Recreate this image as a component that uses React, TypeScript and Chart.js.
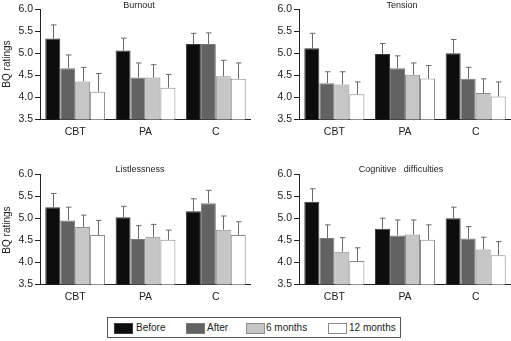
import React, { useEffect, useRef } from 'react';
import { Chart, registerables } from 'chart.js';

Chart.register(...registerables);

const categories = ['CBT', 'PA', 'C'];
const seriesLabels = ['Before', 'After', '6 months', '12 months'];
const seriesColors = ['#0d0d0d', '#626262', '#c6c6c6', '#ffffff'];
const seriesBorders = ['#3a3a3a', '#7a7a7a', '#8e8e8e', '#8a8a8a'];
const yTicks = [3.5, 4.0, 4.5, 5.0, 5.5, 6.0];

// rows = series (Before, After, 6 months, 12 months), columns = categories
const burnoutMeans = [[5.33, 5.06, 5.21], [4.66, 4.45, 5.21], [4.36, 4.45, 4.48], [4.13, 4.22, 4.42]];
const burnoutErrors = [[0.31, 0.28, 0.24], [0.30, 0.33, 0.25], [0.32, 0.29, 0.36], [0.41, 0.30, 0.36]];

const tensionMeans = [[5.11, 4.98, 5.0], [4.32, 4.66, 4.42], [4.29, 4.51, 4.1], [4.07, 4.43, 4.02]];
const tensionErrors = [[0.34, 0.24, 0.31], [0.26, 0.28, 0.26], [0.29, 0.27, 0.32], [0.28, 0.29, 0.33]];

const listlessnessMeans = [[5.25, 5.02, 5.16], [4.95, 4.53, 5.34], [4.8, 4.58, 4.74], [4.62, 4.51, 4.62]];
const listlessnessErrors = [[0.31, 0.25, 0.28], [0.3, 0.3, 0.29], [0.27, 0.28, 0.31], [0.33, 0.22, 0.3]];

const cognitiveMeans = [[5.375, 4.76, 5.0], [4.55, 4.61, 4.54], [4.24, 4.63, 4.29], [4.03, 4.51, 4.16]];
const cognitiveErrors = [[0.29, 0.24, 0.25], [0.3, 0.35, 0.27], [0.32, 0.33, 0.28], [0.3, 0.34, 0.31]];

const FONT = "'Liberation Sans', Arial, Helvetica, sans-serif";

const errorBarPlugin = {
  id: 'errorBars',
  afterDatasetsDraw(chart: any) {
    const ctx = chart.ctx;
    const yScale = chart.scales.y;
    ctx.save();
    ctx.strokeStyle = '#6a6a6a';
    ctx.lineWidth = 1;
    chart.data.datasets.forEach((ds: any, i: number) => {
      const meta = chart.getDatasetMeta(i);
      meta.data.forEach((bar: any, j: number) => {
        const v = ds.data[j];
        const e = ds.errors[j];
        const x = Math.round(bar.x) + 0.5;
        const yTop = yScale.getPixelForValue(v + e);
        const yBase = yScale.getPixelForValue(v);
        ctx.beginPath();
        ctx.moveTo(x, yBase);
        ctx.lineTo(x, yTop);
        ctx.moveTo(x - 2.5, yTop);
        ctx.lineTo(x + 3, yTop);
        ctx.stroke();
      });
    });
    ctx.restore();
  },
};

type PanelProps = {
  means: number[][];
  errors: number[][];
  left: number;
  top: number;
  width: number;
  height: number;
  yAxisWidth: number;
};

function Panel({ means, errors, left, top, width, height, yAxisWidth }: PanelProps) {
  const ref = useRef<HTMLCanvasElement | null>(null);
  useEffect(() => {
    if (!ref.current) return;
    const chart = new Chart(ref.current, {
      type: 'bar',
      data: {
        labels: categories,
        datasets: seriesLabels.map((label, i) => ({
          label,
          data: means[i],
          errors: errors[i],
          backgroundColor: seriesColors[i],
          borderColor: seriesBorders[i],
          borderWidth: 1,
          categoryPercentage: 0.85,
          barPercentage: 1,
        })) as any,
      },
      options: {
        animation: false,
        responsive: false,
        maintainAspectRatio: false,
        devicePixelRatio: 1,
        layout: { padding: { top: 9, right: 0, bottom: 0, left: 0 } },
        plugins: {
          legend: { display: false },
          tooltip: { enabled: false },
          title: { display: false },
        },
        scales: {
          x: {
            grid: { display: true, drawOnChartArea: false, drawTicks: false },
            border: { display: true, color: '#222', width: 1 },
            ticks: { padding: 6, color: '#222', font: { family: FONT, size: 10.5 } },
            afterFit: (s: any) => {
              s.height = 20.5;
            },
          },
          y: {
            min: 3.5,
            max: 6,
            afterBuildTicks: (s: any) => {
              s.ticks = yTicks.map((v) => ({ value: v }));
            },
            grid: { display: true, drawOnChartArea: false, drawTicks: true, tickLength: 5, color: '#222' },
            border: { display: true, color: '#222', width: 1 },
            ticks: {
              padding: 2,
              color: '#222',
              font: { family: FONT, size: 10.5 },
              callback: (v: any) => Number(v).toFixed(1),
            },
            afterFit: (s: any) => {
              s.width = yAxisWidth;
            },
          },
        },
      } as any,
      plugins: [errorBarPlugin],
    });
    return () => chart.destroy();
  }, [means, errors, yAxisWidth]);
  return (
    <canvas
      ref={ref}
      width={width}
      height={height}
      style={{ position: 'absolute', left, top, width, height }}
    />
  );
}

const titleStyle = (cx: number, cy: number): React.CSSProperties => ({
  position: 'absolute',
  left: cx - 80,
  top: cy - 6,
  width: 160,
  height: 12,
  lineHeight: '12px',
  textAlign: 'center',
  fontFamily: FONT,
  fontSize: 9,
  color: '#222',
  whiteSpace: 'pre',
});

const yLabelStyle = (cx: number, cy: number): React.CSSProperties => ({
  position: 'absolute',
  left: cx - 40,
  top: cy - 6,
  width: 80,
  height: 12,
  lineHeight: '12px',
  textAlign: 'center',
  fontFamily: FONT,
  fontSize: 10,
  color: '#222',
  transform: 'rotate(-90deg)',
});

const legendItems = [
  { swatch: 114, text: 136 },
  { swatch: 186, text: 207 },
  { swatch: 246, text: 266 },
  { swatch: 328, text: 349 },
];

export default function App() {
  return (
    <div
      style={{
        position: 'fixed',
        left: 0,
        top: 0,
        width: 511,
        height: 341,
        background: '#fff',
        overflow: 'hidden',
      }}
    >
      <Panel means={burnoutMeans} errors={burnoutErrors} left={0} top={0} width={251} height={140} yAxisWidth={40} />
      <Panel means={tensionMeans} errors={tensionErrors} left={255} top={0} width={256} height={140} yAxisWidth={44} />
      <Panel means={listlessnessMeans} errors={listlessnessErrors} left={0} top={165} width={251} height={140} yAxisWidth={40} />
      <Panel means={cognitiveMeans} errors={cognitiveErrors} left={255} top={165} width={256} height={140} yAxisWidth={44} />

      <div style={titleStyle(139, 4.5)}>Burnout</div>
      <div style={titleStyle(402, 4.5)}>Tension</div>
      <div style={titleStyle(140, 169)}>Listlessness</div>
      <div style={titleStyle(401, 169)}>{'Cognitive   difficulties'}</div>

      <div style={yLabelStyle(7, 64)}>BQ ratings</div>
      <div style={yLabelStyle(7, 230)}>BQ ratings</div>

      <div
        style={{
          position: 'absolute',
          left: 107,
          top: 317,
          width: 292,
          height: 19,
          border: '1.5px solid #555',
        }}
      />
      {legendItems.map((it, i) => (
        <React.Fragment key={seriesLabels[i]}>
          <div
            style={{
              position: 'absolute',
              left: it.swatch,
              top: 323,
              width: 17,
              height: 9,
              background: seriesColors[i],
              border: `1px solid ${seriesBorders[i]}`,
            }}
          />
          <div
            style={{
              position: 'absolute',
              left: it.text,
              top: 321,
              height: 14,
              lineHeight: '14px',
              fontFamily: FONT,
              fontSize: 10,
              color: '#222',
              whiteSpace: 'nowrap',
            }}
          >
            {seriesLabels[i]}
          </div>
        </React.Fragment>
      ))}
    </div>
  );
}
